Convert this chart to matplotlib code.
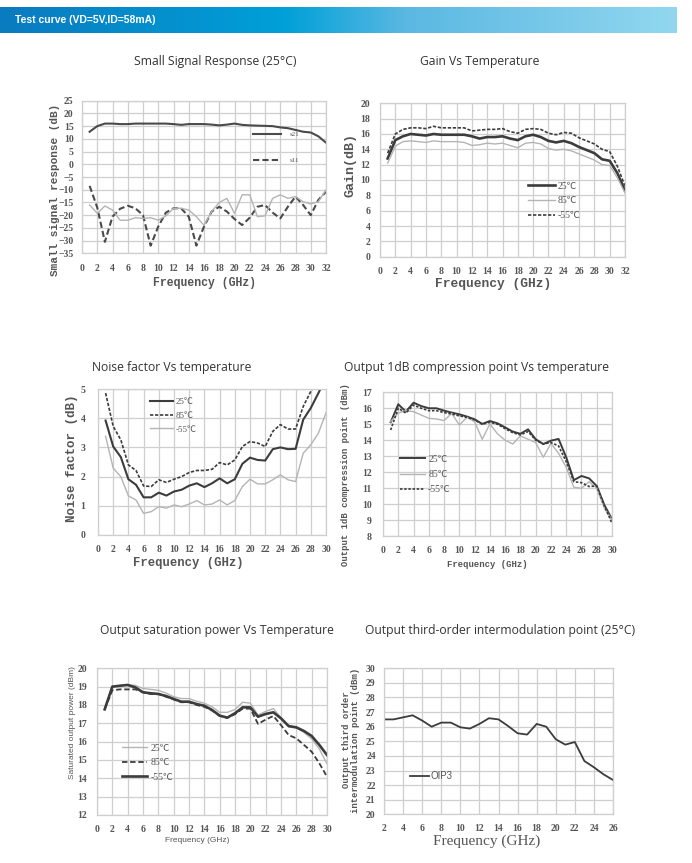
import numpy as np
import matplotlib
matplotlib.use('Agg')
import matplotlib.pyplot as plt
from matplotlib.colors import LinearSegmentedColormap

W, H = 692, 863

# ---------------- data ----------------
ss_freq = list(range(1, 33))
s21 = [12.8, 15.0, 16.0, 16.0, 15.8, 15.8, 16.0, 16.0, 16.0, 16.0, 16.0, 15.8,
       15.5, 15.8, 15.8, 15.8, 15.6, 15.3, 15.6, 16.0, 15.5, 15.3, 15.2, 15.1,
       15.0, 14.5, 14.2, 13.5, 12.8, 12.5, 11.0, 8.5]
s11 = [-8.5, -17.0, -30.5, -20.6, -17.5, -16.3, -17.3, -20.0, -32.0, -24.5, -19.0, -17.3,
       -17.3, -20.6, -32.0, -24.5, -18.6, -16.7, -18.6, -21.5, -23.9, -21.0, -16.7, -16.0,
       -19.0, -21.3, -16.7, -12.7, -16.0, -20.0, -14.0, -10.8]
s22 = [-16.0, -19.3, -16.4, -18.0, -22.0, -22.0, -21.0, -21.3, -21.0, -22.0, -20.3, -17.3,
       -17.3, -18.0, -20.6, -24.0, -18.6, -15.0, -13.4, -19.3, -12.0, -12.0, -20.6, -20.3,
       -13.4, -12.0, -13.4, -12.7, -14.7, -15.6, -14.7, -10.0]

gain_freq = list(range(1, 33))
gain_25 = [12.8, 15.2, 15.7, 16.0, 15.9, 15.8, 16.0, 15.9, 15.9, 15.9, 15.9, 15.7,
           15.4, 15.6, 15.6, 15.7, 15.4, 15.2, 15.7, 15.9, 15.6, 15.1, 14.9, 15.1,
           14.8, 14.3, 13.9, 13.5, 12.7, 12.5, 10.9, 8.6]
gain_85 = [12.2, 14.4, 15.0, 15.1, 15.0, 14.9, 15.1, 15.0, 15.0, 15.0, 14.9, 14.5,
           14.6, 14.8, 14.7, 14.8, 14.5, 14.2, 14.8, 14.9, 14.7, 14.1, 13.9, 14.0,
           13.8, 13.4, 13.0, 12.6, 12.0, 11.9, 10.3, 8.3]
gain_m55 = [13.5, 16.0, 16.6, 16.8, 16.8, 16.7, 17.0, 16.8, 16.8, 16.8, 16.8, 16.4,
            16.5, 16.6, 16.6, 16.7, 16.3, 16.1, 16.6, 16.7, 16.6, 16.1, 15.9, 16.2,
            16.1, 15.5, 15.1, 14.7, 14.0, 13.7, 11.8, 9.2]

nf_freq = list(range(1, 31))
nf_25 = [3.92, 3.03, 2.67, 1.91, 1.72, 1.29, 1.29, 1.45, 1.35, 1.49, 1.55, 1.69,
         1.77, 1.64, 1.77, 1.94, 1.77, 1.91, 2.44, 2.65, 2.57, 2.55, 2.94, 3.0,
         2.94, 2.95, 3.95, 4.35, 4.86, 5.4]
nf_85 = [4.86, 3.72, 3.26, 2.4, 2.21, 1.68, 1.66, 1.89, 1.8, 1.91, 2.0, 2.14,
         2.21, 2.21, 2.25, 2.48, 2.4, 2.57, 3.03, 3.2, 3.15, 3.03, 3.55, 3.78,
         3.63, 3.63, 4.4, 4.92, 5.3, 5.6]
nf_m55 = [3.38, 2.29, 2.0, 1.34, 1.2, 0.74, 0.8, 0.97, 0.92, 1.03, 0.97, 1.06,
          1.18, 1.03, 1.06, 1.2, 1.03, 1.18, 1.66, 1.91, 1.75, 1.75, 1.89, 2.06,
          1.89, 1.83, 2.8, 3.09, 3.49, 4.18]

p1_freq = list(range(1, 31))
p1_25 = [15.12, 16.25, 15.79, 16.35, 16.14, 16.0, 16.0, 15.85, 15.73, 15.62, 15.48, 15.31,
         15.02, 15.2, 15.06, 14.8, 14.54, 14.4, 14.68, 14.06, 13.76, 13.97, 14.08, 12.93,
         11.5, 11.76, 11.61, 11.13, 9.94, 9.05]
p1_85 = [15.16, 15.7, 15.85, 15.79, 15.58, 15.37, 15.33, 15.23, 15.68, 14.95, 15.43, 15.16,
         14.06, 15.02, 14.4, 14.0, 13.76, 14.27, 14.06, 13.85, 12.93, 13.8, 13.18, 12.3,
         11.05, 10.99, 11.4, 10.99, 9.74, 9.0]
p1_m55 = [14.64, 16.0, 15.7, 16.2, 16.0, 15.85, 15.85, 15.73, 15.64, 15.52, 15.43, 15.27,
          15.0, 15.12, 15.0, 14.72, 14.47, 14.33, 14.54, 14.0, 13.76, 13.85, 13.64, 12.66,
          11.4, 11.34, 11.1, 11.13, 9.88, 8.8]

psat_freq = list(range(1, 31))
psat_25 = [17.76, 19.0, 19.05, 19.1, 19.07, 18.9, 18.85, 18.8, 18.65, 18.45, 18.35, 18.35,
           18.2, 18.1, 17.9, 17.6, 17.6, 17.75, 18.15, 18.1, 17.45, 17.65, 17.8, 17.3,
           16.8, 16.75, 16.5, 16.15, 15.6, 14.8]
psat_85 = [17.76, 18.8, 18.85, 18.85, 18.85, 18.7, 18.6, 18.6, 18.45, 18.3, 18.15, 18.15,
           18.0, 17.9, 17.7, 17.4, 17.3, 17.5, 17.8, 17.8, 16.97, 17.2, 17.4, 16.9,
           16.36, 16.18, 15.82, 15.45, 14.82, 14.09]
psat_m55 = [17.76, 19.0, 19.05, 19.09, 18.96, 18.69, 18.64, 18.6, 18.49, 18.33, 18.18, 18.18,
            18.05, 17.96, 17.73, 17.42, 17.31, 17.55, 17.87, 17.87, 17.36, 17.51, 17.6, 17.27,
            16.85, 16.78, 16.58, 16.31, 15.82, 15.27]

oip3_freq = list(range(2, 27))
oip3 = [26.5, 26.5, 26.64, 26.78, 26.42, 26.0, 26.28, 26.28, 25.96, 25.87, 26.19, 26.58,
        26.5, 26.05, 25.55, 25.46, 26.19, 26.0, 25.14, 24.77, 24.95, 23.65, 23.22, 22.74,
        22.35]

temp_labels = ['25℃', '85℃', '-55℃']

DARK = '#3c3c3c'
LIGHT = '#b4b4b4'
GRID = '#cfcfcf'
TXT = '#555555'

SERIF = ['Liberation Serif', 'Noto Sans CJK SC', 'DejaVu Sans']
MONO = ['Liberation Mono', 'DejaVu Sans Mono']

fig = plt.figure(figsize=(W / 100, H / 100), dpi=100)
fig.patch.set_facecolor('white')


def px(x, y):
    return x / W, 1 - y / H


def panel(l, t, r, b, xlim, ylim, xticks, yticks, ypad=4.5, xpad=5.5):
    ax = fig.add_axes([l / W, 1 - b / H, (r - l) / W, (b - t) / H])
    ax.set_xlim(*xlim)
    ax.set_ylim(*ylim)
    ax.set_xticks(xticks)
    ax.set_yticks(yticks)
    ax.grid(True, color=GRID, lw=0.9)
    ax.set_axisbelow(True)
    for s in ax.spines.values():
        s.set_color(GRID)
        s.set_linewidth(0.9)
    ax.tick_params(length=0, labelsize=7, labelcolor=TXT)
    ax.tick_params(axis='y', pad=ypad)
    ax.tick_params(axis='x', pad=xpad)
    for lab in ax.get_xticklabels() + ax.get_yticklabels():
        lab.set_family(SERIF)
        lab.set_fontweight('bold')
    return ax


def legend(ax, x, y, size, hl, sp, tp=0.3, family=SERIF):
    leg = ax.legend(loc='upper left', bbox_to_anchor=(x, y), frameon=False,
                    borderpad=0, borderaxespad=0, handlelength=hl,
                    labelspacing=sp, handletextpad=tp,
                    prop={'family': family, 'size': size})
    for t in leg.get_texts():
        t.set_color(TXT)
    return leg


# ---------------- header bar ----------------
hax = fig.add_axes([0, 1 - 33 / H, 677 / W, 26 / H])
cmap = LinearSegmentedColormap.from_list(
    'hdr', [(0, '#0a7bc0'), (0.42, '#00a0d8'), (0.6, '#5ab8e2'), (1, '#92d7ef')])
hax.imshow(np.linspace(0, 1, 256).reshape(1, -1), aspect='auto', cmap=cmap,
           extent=[0, 1, 0, 1])
hax.set_axis_off()
fig.text(*px(15, 20), 'Test curve (VD=5V,ID=58mA)', color='white', fontsize=7.5,
         fontweight='bold', family='Liberation Sans', va='center', ha='left')

# ---------------- titles ----------------
titles = [
    ('Small Signal Response (25°C)', 215, 62),
    ('Gain Vs Temperature', 480, 62),
    ('Noise factor Vs temperature', 172, 367),
    ('Output 1dB compression point Vs temperature', 476, 367),
    ('Output saturation power Vs Temperature', 217, 630),
    ('Output third-order intermodulation point (25°C)', 500, 630),
]
for txt, x, y in titles:
    fig.text(*px(x, y), txt, fontsize=8.7, family='Open Sans', color='#333333',
             ha='center', va='center')

# ---------------- 1: small signal ----------------
ax1 = panel(82, 100.7, 326, 253.3, (0, 32), (-35, 25),
            range(0, 33, 2), range(-35, 26, 5), ypad=6, xpad=8)
ax1.plot(ss_freq, s21, color='#4a4a4a', lw=1.5, label='s21')
ax1.plot(ss_freq, s11, color='#4a4a4a', lw=1.5, ls=(0, (3, 1.5)), label='s11')
ax1.plot(ss_freq, s22, color=LIGHT, lw=1.0)
legend(ax1, 0.70, 0.80, 5, 4.0, 2.9, 1.3)
fig.text(*px(55, 190), 'Small signal response (dB)', rotation=90, fontsize=8,
         family=MONO, fontweight='bold', color=TXT, ha='center', va='center')
fig.text(*px(205, 283), 'Frequency (GHz)', fontsize=8.3, family=MONO,
         fontweight='bold', color=TXT, ha='center', va='center')

# ---------------- 2: gain ----------------
ax2 = panel(380, 103.3, 625, 256.7, (0, 32), (0, 20),
            range(0, 33, 2), range(0, 21, 2), ypad=7, xpad=7.5)
ax2.plot(gain_freq, gain_25, color=DARK, lw=1.9, label=temp_labels[0])
ax2.plot(gain_freq, gain_85, color=LIGHT, lw=1.0, label=temp_labels[1])
ax2.plot(gain_freq, gain_m55, color=DARK, lw=1.2, ls=(0, (2, 1)), label=temp_labels[2])
legend(ax2, 0.604, 0.49, 7, 2.8, 0.6, 0.2)
fig.text(*px(350, 165), 'Gain(dB)', rotation=90, fontsize=9.6, family=MONO,
         fontweight='bold', color=TXT, ha='center', va='center')
fig.text(*px(493, 284), 'Frequency (GHz)', fontsize=9.3, family=MONO,
         fontweight='bold', color=TXT, ha='center', va='center')

# ---------------- 3: noise factor ----------------
ax3 = panel(98, 389, 326, 535, (0, 30), (0, 5),
            range(0, 31, 2), range(0, 6), ypad=9, xpad=7)
ax3.plot(nf_freq, nf_25, color=DARK, lw=1.5, label=temp_labels[0])
ax3.plot(nf_freq, nf_85, color=DARK, lw=1.2, ls=(0, (2, 1)), label=temp_labels[1])
ax3.plot(nf_freq, nf_m55, color=LIGHT, lw=1.0, label=temp_labels[2])
legend(ax3, 0.227, 0.94, 6.5, 2.55, 0.6, 0.3)
fig.text(*px(72, 458), 'Noise factor (dB)', rotation=90, fontsize=9, family=MONO,
         fontweight='bold', color=TXT, ha='center', va='center')
fig.text(*px(188, 563), 'Frequency (GHz)', fontsize=8.8, family=MONO,
         fontweight='bold', color=TXT, ha='center', va='center')

# ---------------- 4: P1dB ----------------
ax4 = panel(383, 392.3, 612, 536, (0, 30), (8, 17),
            range(0, 31, 2), range(8, 18), ypad=8, xpad=7)
ax4.plot(p1_freq, p1_25, color=DARK, lw=1.4, label=temp_labels[0])
ax4.plot(p1_freq, p1_85, color=LIGHT, lw=1.0, label=temp_labels[1])
ax4.plot(p1_freq, p1_m55, color=DARK, lw=1.2, ls=(0, (1.5, 1)), label=temp_labels[2])
legend(ax4, 0.074, 0.565, 7, 2.6, 0.65, 0.3)
fig.text(*px(345, 475), 'Output 1dB compression point (dBm)', rotation=90,
         fontsize=6.4, family=MONO, fontweight='bold', color=TXT,
         ha='center', va='center')
fig.text(*px(487, 564), 'Frequency (GHz)', fontsize=6.4, family=MONO,
         fontweight='bold', color=TXT, ha='center', va='center')

# ---------------- 5: Psat ----------------
ax5 = panel(97, 668.3, 327, 815, (0, 30), (12, 20),
            range(0, 31, 2), range(12, 21), ypad=7, xpad=7)
ax5.plot(psat_freq, psat_25, color=LIGHT, lw=1.0, label=temp_labels[0])
ax5.plot(psat_freq, psat_85, color=DARK, lw=1.3, ls=(0, (3, 1.5)), label=temp_labels[1])
ax5.plot(psat_freq, psat_m55, color=DARK, lw=1.9, label=temp_labels[2])
legend(ax5, 0.109, 0.485, 7, 2.6, 0.55, 0.3)
fig.text(*px(72, 723), 'Saturated output power (dBm)', rotation=90, fontsize=6,
         family='Liberation Sans', color=TXT, ha='center', va='center')
fig.text(*px(197, 840), 'Frequency (GHz)', fontsize=6, family='Liberation Sans',
         color=TXT, ha='center', va='center')

# ---------------- 6: OIP3 ----------------
ax6 = panel(384, 668.3, 613, 814.3, (2, 26), (20, 30),
            range(2, 27, 2), range(20, 31), ypad=6, xpad=7)
ax6.plot(oip3_freq, oip3, color=DARK, lw=1.3, label='OIP3')
legend(ax6, 0.114, 0.297, 7, 1.9, 0.5, 0.2, family='Liberation Sans')
fig.text(*px(351, 740), 'Output third order\nintermodulation point (dBm)',
         rotation=90, fontsize=6.4, family=MONO, fontweight='bold', color=TXT,
         ha='center', va='center', linespacing=1.0)
fig.text(*px(487, 841), 'Frequency (GHz)', fontsize=11, family=SERIF,
         color=TXT, ha='center', va='center')

fig.savefig('out.png', dpi=100)
